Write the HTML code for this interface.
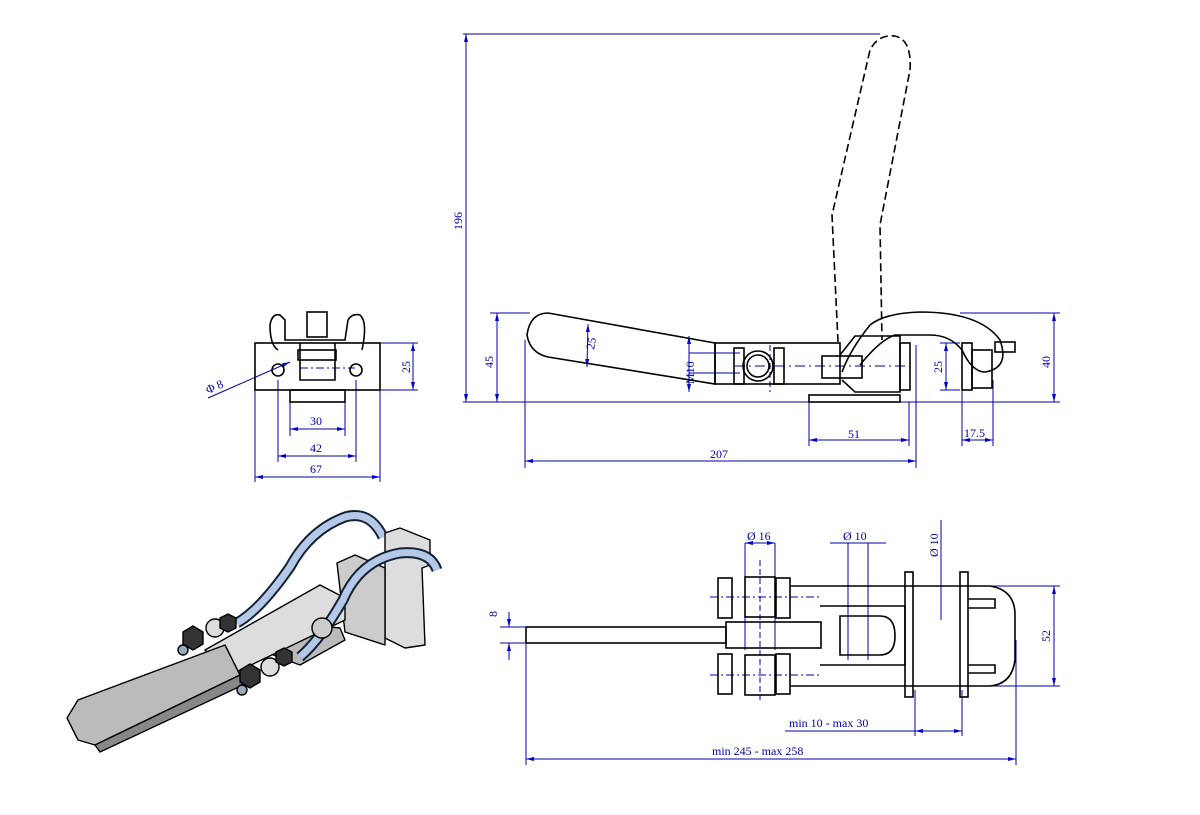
<!DOCTYPE html>
<html><head><style>body{margin:0;background:#fff}svg{display:block}</style></head><body>
<svg width="1200" height="815" viewBox="0 0 1200 815" xmlns="http://www.w3.org/2000/svg" font-family="Liberation Serif, serif" font-size="12">
<defs><marker id="a" markerWidth="8" markerHeight="6" refX="8" refY="3" orient="auto-start-reverse"><path d="M0,1 L8,3 L0,5z" fill="#00c"/></marker></defs>
<g stroke="#00a" stroke-width="1" fill="none">
<line x1="463" y1="34" x2="880" y2="34"/><line x1="463" y1="402" x2="1060" y2="402"/>
<line x1="466" y1="34" x2="466" y2="402" marker-start="url(#a)" marker-end="url(#a)"/>
<line x1="490" y1="313" x2="530" y2="313"/><line x1="497" y1="313" x2="497" y2="402" marker-start="url(#a)" marker-end="url(#a)"/>
<line x1="960" y1="313" x2="1060" y2="313"/><line x1="1054" y1="313" x2="1054" y2="402" marker-start="url(#a)" marker-end="url(#a)"/>
<line x1="525" y1="340" x2="525" y2="468"/><line x1="916" y1="345" x2="916" y2="468"/>
<line x1="525" y1="461" x2="916" y2="461" marker-start="url(#a)" marker-end="url(#a)"/>
<line x1="809" y1="402" x2="809" y2="446"/><line x1="909" y1="402" x2="909" y2="446"/>
<line x1="809" y1="440" x2="909" y2="440" marker-start="url(#a)" marker-end="url(#a)"/>
<line x1="946" y1="343" x2="946" y2="390" marker-start="url(#a)" marker-end="url(#a)"/>
<line x1="940" y1="343" x2="960" y2="343"/><line x1="940" y1="390" x2="960" y2="390"/>
<line x1="962" y1="390" x2="962" y2="446"/><line x1="993" y1="380" x2="993" y2="446"/>
<line x1="962" y1="440" x2="993" y2="440" marker-start="url(#a)" marker-end="url(#a)"/>
<line x1="588" y1="324" x2="587" y2="367" marker-start="url(#a)" marker-end="url(#a)"/>
<line x1="689" y1="336" x2="689" y2="392" marker-start="url(#a)" marker-end="url(#a)"/>
<line x1="689" y1="353" x2="740" y2="353"/><line x1="689" y1="373" x2="740" y2="373"/>
<line x1="735" y1="366" x2="910" y2="366" stroke-dasharray="10 4 2 4"/>
<line x1="770" y1="345" x2="770" y2="392" stroke-dasharray="6 3"/>
<line x1="255" y1="390" x2="255" y2="482"/><line x1="380" y1="390" x2="380" y2="482"/>
<line x1="255" y1="477" x2="380" y2="477" marker-start="url(#a)" marker-end="url(#a)"/>
<line x1="278" y1="380" x2="278" y2="462"/><line x1="356" y1="380" x2="356" y2="462"/>
<line x1="278" y1="456" x2="356" y2="456" marker-start="url(#a)" marker-end="url(#a)"/>
<line x1="290" y1="400" x2="290" y2="436"/><line x1="345" y1="400" x2="345" y2="436"/>
<line x1="290" y1="429" x2="345" y2="429" marker-start="url(#a)" marker-end="url(#a)"/>
<line x1="380" y1="343" x2="418" y2="343"/><line x1="380" y1="390" x2="418" y2="390"/>
<line x1="413" y1="343" x2="413" y2="390" marker-start="url(#a)" marker-end="url(#a)"/>
<line x1="208" y1="398" x2="290" y2="362" marker-end="url(#a)"/>
<line x1="300" y1="368" x2="355" y2="368" stroke-dasharray="8 3 2 3"/>
<line x1="500" y1="627" x2="525" y2="627"/><line x1="500" y1="643" x2="525" y2="643"/>
<line x1="509" y1="612" x2="509" y2="627" marker-end="url(#a)"/><line x1="509" y1="660" x2="509" y2="643" marker-end="url(#a)"/>
<line x1="526" y1="640" x2="526" y2="765"/><line x1="1016" y1="640" x2="1016" y2="765"/>
<line x1="526" y1="759" x2="1016" y2="759" marker-start="url(#a)" marker-end="url(#a)"/>
<line x1="915" y1="690" x2="915" y2="736"/><line x1="962" y1="690" x2="962" y2="736"/>
<line x1="785" y1="731" x2="915" y2="731"/><line x1="915" y1="731" x2="962" y2="731" marker-start="url(#a)" marker-end="url(#a)"/>
<line x1="985" y1="586" x2="1060" y2="586"/><line x1="985" y1="686" x2="1060" y2="686"/>
<line x1="1054" y1="586" x2="1054" y2="686" marker-start="url(#a)" marker-end="url(#a)"/>
<line x1="745" y1="543" x2="745" y2="650"/><line x1="775" y1="543" x2="775" y2="650"/>
<line x1="745" y1="543" x2="775" y2="543" marker-start="url(#a)" marker-end="url(#a)"/>
<line x1="848" y1="543" x2="848" y2="660"/><line x1="868" y1="543" x2="868" y2="660"/>
<line x1="830" y1="543" x2="886" y2="543"/>
<line x1="941" y1="520" x2="941" y2="620"/>
<line x1="710" y1="597" x2="820" y2="597" stroke-dasharray="8 3 2 3"/><line x1="710" y1="675" x2="820" y2="675" stroke-dasharray="8 3 2 3"/>
<line x1="760" y1="560" x2="760" y2="700" stroke-dasharray="6 3"/>
</g>
<g fill="#00a" font-size="12">
<text x="462" y="230" transform="rotate(-90 462 230)">196</text>
<text x="493" y="368" transform="rotate(-90 493 368)">45</text>
<text x="1050" y="368" transform="rotate(-90 1050 368)">40</text>
<text x="942" y="373" transform="rotate(-90 942 373)">25</text>
<text x="594" y="350" transform="rotate(-80 594 350)">25</text>
<text x="694" y="384" transform="rotate(-90 694 384)">M10</text>
<text x="710" y="458">207</text><text x="848" y="438">51</text><text x="964" y="437">17.5</text>
<text x="410" y="373" transform="rotate(-90 410 373)">25</text>
<text x="310" y="425">30</text><text x="310" y="452">42</text><text x="310" y="473">67</text>
<text x="208" y="394" transform="rotate(-24 208 394)">Φ 8</text>
<text x="497" y="617" transform="rotate(-90 497 617)">8</text>
<text x="1050" y="642" transform="rotate(-90 1050 642)">52</text>
<text x="747" y="540">Ø 16</text><text x="843" y="540">Ø 10</text>
<text x="938" y="557" transform="rotate(-90 938 557)">Ø 10</text>
<text x="789" y="727">min 10 - max 30</text><text x="712" y="755">min 245 - max 258</text>
</g>
<g stroke="#000" stroke-width="1.6" fill="none">
<path d="M548,313 L715,343 L715,384 L548,357 Q530,353 527,335 Q530,313 548,313Z"/>
<rect x="715" y="343" width="125" height="41"/>
<circle cx="758" cy="366" r="15"/><circle cx="758" cy="366" r="11"/>
<rect x="734" y="348" width="10" height="36"/><rect x="774" y="348" width="10" height="36"/>
<rect x="822" y="356" width="40" height="22"/>
<path d="M840,355 L855,336 L900,336 L900,392 L855,392 L842,380"/>
<path d="M842,372 Q850,350 870,325 Q885,313 920,312 Q980,312 1000,340 Q1010,368 985,372 Q972,372 962,350 Q950,335 930,335 L895,335 Q880,340 860,365"/>
<rect x="900" y="343" width="10" height="47"/><rect x="962" y="343" width="10" height="47"/>
<rect x="972" y="350" width="20" height="38"/><rect x="995" y="342" width="20" height="10"/>
<rect x="809" y="395" width="91" height="7"/>
<path d="M838,342 L832,215 L870,50 Q878,34 895,36 Q912,40 910,70 L880,225 L882,340" stroke-dasharray="8 4"/>
<rect x="255" y="343" width="125" height="47"/>
<rect x="290" y="390" width="55" height="12"/>
<path d="M300,343 L300,380 L335,380 L335,343"/>
<rect x="307" y="312" width="20" height="25"/>
<path d="M278,350 Q270,345 270,325 Q272,313 280,315 L285,320 L285,340 L345,340 L348,320 Q352,313 360,315 Q368,322 362,350"/>
<circle cx="278" cy="370" r="6"/><circle cx="356" cy="370" r="6"/>
<rect x="298" y="350" width="38" height="10"/>
<rect x="526" y="627" width="200" height="16"/>
<rect x="726" y="622" width="95" height="26"/>
<rect x="718" y="578" width="14" height="40"/><rect x="718" y="654" width="14" height="40"/>
<rect x="745" y="577" width="30" height="40"/><rect x="745" y="655" width="30" height="40"/>
<rect x="776" y="578" width="14" height="40"/><rect x="776" y="654" width="14" height="40"/>
<path d="M790,586 L990,586 Q1015,590 1015,615 L1015,660 Q1012,684 990,686 L790,686"/>
<path d="M820,606 L905,606 L905,665 L820,665"/>
<path d="M840,616 L880,616 Q895,616 895,636 Q895,655 880,655 L840,655 Z"/>
<rect x="905" y="572" width="8" height="125"/><rect x="960" y="572" width="8" height="125"/>
<path d="M968,599 L995,599 L995,608 L968,608 M968,665 L995,665 L995,673 L968,673"/>
</g>
<!-- 3D view -->
<g stroke="#000" stroke-width="1.4" stroke-linejoin="round">
<path d="M237,623 Q260,610 290,567 Q310,530 345,517 Q370,510 383,537" stroke="#123" stroke-width="11" fill="none"/>
<path d="M237,623 Q260,610 290,567 Q310,530 345,517 Q370,510 383,537" stroke="#b5c8e8" stroke-width="7" fill="none"/>
<polygon points="385,533 400,528 430,540 430,565 422,568 425,645 405,648 385,638" fill="#ddd"/>
<polygon points="337,563 355,555 385,568 385,645 345,632" fill="#ccc"/>
<polygon points="260,650 310,625 340,628 345,640 300,665" fill="#bbb"/>
<polygon points="205,650 320,585 345,598 345,620 230,675" fill="#ddd"/>
<polygon points="67,718 78,700 225,645 240,675 95,745 78,740" fill="#bbb"/>
<polygon points="95,745 240,675 243,685 100,752" fill="#888"/>
<path d="M300,657 Q320,640 343,600 Q360,560 400,553 Q430,550 437,570" stroke="#123" stroke-width="11" fill="none"/>
<path d="M300,657 Q320,640 343,600 Q360,560 400,553 Q430,550 437,570" stroke="#b5c8e8" stroke-width="7" fill="none"/>
<polygon points="183,632 193,626 203,632 203,644 193,650 183,644" fill="#333"/><circle cx="183" cy="650" r="5" fill="#9ab"/>
<circle cx="215" cy="628" r="9" fill="#ddd"/><polygon points="220,618 228,614 236,618 236,628 228,632 220,628" fill="#333"/>
<polygon points="240,670 250,664 260,670 260,682 250,688 240,682" fill="#333"/><circle cx="242" cy="690" r="5" fill="#9ab"/>
<circle cx="270" cy="667" r="9" fill="#ddd"/><polygon points="276,652 284,648 292,652 292,662 284,666 276,662" fill="#333"/>
<circle cx="322" cy="628" r="10" fill="#ccc"/>
</g>
</svg>
</body></html>
